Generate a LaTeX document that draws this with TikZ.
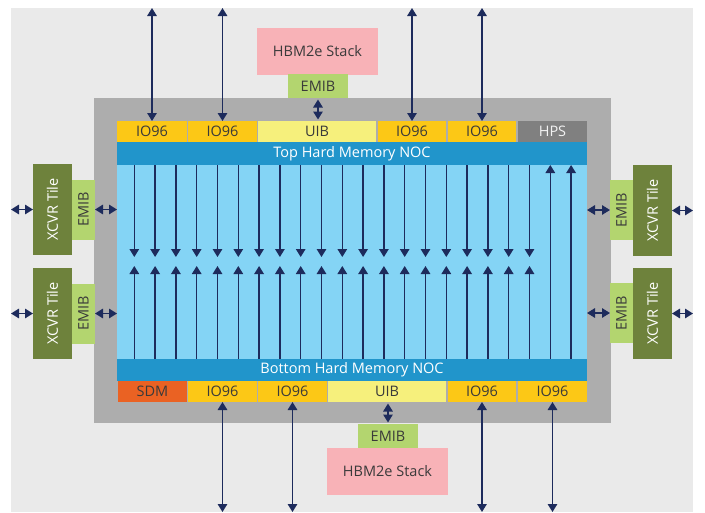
\documentclass[tikz,border=0pt]{standalone}
\usepackage{fontspec}
\setmainfont{Open Sans}
\usepackage{tikz}
\usetikzlibrary{positioning, arrows.meta}
\definecolor{bggray}{HTML}{EAEAEA}
\definecolor{framegray}{HTML}{ADADAD}
\definecolor{ioyellow}{HTML}{FCC816}
\definecolor{uibyellow}{HTML}{F6F07C}
\definecolor{hpsgray}{HTML}{808080}
\definecolor{sdmorange}{HTML}{EA6223}
\definecolor{nocblue}{HTML}{2195CB}
\definecolor{meshblue}{HTML}{84D4F5}
\definecolor{xcvrgreen}{HTML}{6E823C}
\definecolor{emibgreen}{HTML}{B3D56F}
\definecolor{hbmpink}{HTML}{F8B2B7}
\definecolor{navy}{HTML}{1D2B5C}
\definecolor{txtdark}{HTML}{3A3A3A}
\def\up#1{\rotatebox{90}{#1}}

\begin{document}
\begin{tikzpicture}[x=1pt, y=-1pt,
              every node/.style = {shape=rectangle, inner sep=0pt, outer sep=0pt,
                text=txtdark, font=\fontsize{14.5}{15}\selectfont},
              io/.style = {fill=ioyellow, minimum height=21pt},
              uib/.style = {fill=uibyellow, minimum height=21pt, minimum width=118pt},
              noc/.style = {fill=nocblue, text=white, minimum width=470pt},
              emib/.style = {fill=emibgreen},
              xcvr/.style = {fill=xcvrgreen, text=white, minimum width=39pt, minimum height=91pt},
              hbm/.style = {fill=hbmpink, minimum width=121pt, minimum height=47pt},
              tip/.tip = {Triangle[width=9.5pt, length=8pt]},
              link/.style = {draw=navy, line width=1.4pt, tip-tip},
              down/.style = {draw=navy, line width=1.3pt, -tip}]
  \useasboundingbox (0,0) rectangle (705,512);
  \node[fill=bggray, minimum width=682pt, minimum height=504pt] (bg) at (352,260) {};
  \node[fill=framegray, minimum width=517pt, minimum height=325pt] (chip) at (352.5,260.5) {};
  \node[fill=meshblue, minimum width=470pt, minimum height=194pt] (mesh) at (352,262) {};
  \node[noc, minimum height=23pt] (topnoc) at (352,153.5) {Top Hard Memory NOC};
  \node[noc, minimum height=22pt] (botnoc) at (352,370) {Bottom Hard Memory NOC};

  \node[io, minimum width=70pt] (t1) at (152,131.5) {IO96};
  \node[io, minimum width=69pt] (t2) at (222.5,131.5) {IO96};
  \node[uib] (tu) at (317,131.5) {UIB};
  \node[io, minimum width=68pt] (t3) at (412,131.5) {IO96};
  \node[io, minimum width=68pt] (t4) at (482,131.5) {IO96};
  \node[io, fill=hpsgray, text=white!90!gray, minimum width=69pt] (hps) at (552.5,131.5) {HPS};

  \node[io, fill=sdmorange, minimum width=69pt] (sdm) at (152.5,391.5) {SDM};
  \node[io, minimum width=69pt] (b1) at (222.5,391.5) {IO96};
  \node[io, minimum width=69pt] (b2) at (292.5,391.5) {IO96};
  \node[uib] (bu) at (387,391.5) {UIB};
  \node[io, minimum width=68pt] (b3) at (482,391.5) {IO96};
  \node[io, minimum width=69pt] (b4) at (552.5,391.5) {IO96};

  \node[hbm] (thbm) at (317.5,51.5) {HBM2e Stack};
  \node[emib, minimum width=60pt, minimum height=24pt] (temib) at (318,86) {EMIB};
  \node[hbm] (bhbm) at (387.5,471.5) {HBM2e Stack};
  \node[emib, minimum width=60pt, minimum height=24pt] (bemib) at (388,436) {EMIB};

  \node[xcvr] (lx1) at (52.5,209.5) {\up{XCVR Tile}};
  \node[emib, minimum width=23pt, minimum height=60pt] (le1) at (83.5,209.5) {\up{EMIB}};
  \node[xcvr] (lx2) at (52.5,313.5) {\up{XCVR Tile}};
  \node[emib, minimum width=23pt, minimum height=60pt] (le2) at (83.5,313.5) {\up{EMIB}};
  \node[emib, minimum width=23pt, minimum height=60pt] (re1) at (621.5,210) {\up{EMIB}};
  \node[xcvr] (rx1) at (652.5,210.5) {\up{XCVR Tile}};
  \node[emib, minimum width=23pt, minimum height=60pt] (re2) at (621.5,313) {\up{EMIB}};
  \node[xcvr] (rx2) at (652.5,313.5) {\up{XCVR Tile}};

  \foreach \i in {0,...,19} {
    \draw[down] ({134.3+20.8*\i},165) -- ({134.3+20.8*\i},257);
    \draw[down] ({134.3+20.8*\i},359) -- ({134.3+20.8*\i},266);
  }
  \foreach \i in {20,21}
    \draw[down] ({134.3+20.8*\i},359) -- ({134.3+20.8*\i},165);

  \foreach \n in {t1,t2,t3,t4}
    \draw[link] (\n.north |- bg.north) -- (\n.north);
  \foreach \n in {b1,b2,b3,b4}
    \draw[link] (\n.south) -- (\n.south |- bg.south);
  \draw[link, shorten <=1.5pt, shorten >=1.5pt] (temib.south) -- (temib.south |- tu.north);
  \draw[link, shorten <=1.5pt, shorten >=1.5pt] (bemib.north |- bu.south) -- (bemib.north);

  \foreach \x/\e in {lx1/le1, lx2/le2} {
    \draw[link] (\x.west -| bg.west) -- (\x.west);
    \draw[link] (\e.east) -- (\e.east -| mesh.west);
  }
  \foreach \x/\e in {rx1/re1, rx2/re2} {
    \draw[link] (\x.east) -- (\x.east -| bg.east);
    \draw[link] (\e.west -| mesh.east) -- (\e.west);
  }
\end{tikzpicture}
\end{document}
